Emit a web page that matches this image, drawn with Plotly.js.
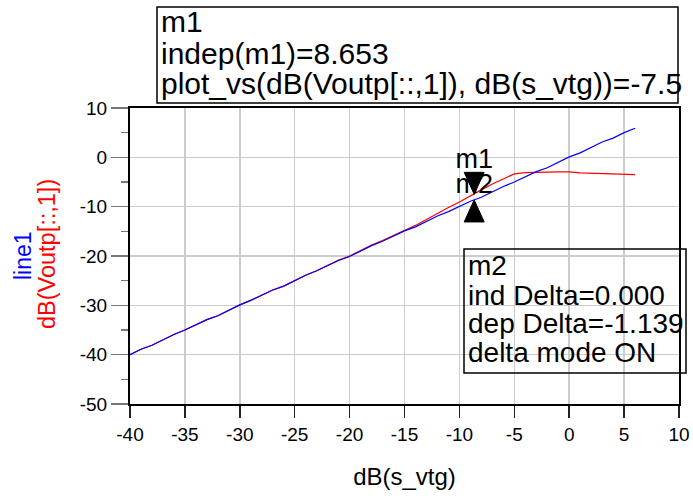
<!DOCTYPE html>
<html>
<head>
<meta charset="utf-8">
<script src="https://cdn.plot.ly/plotly-3.0.1.min.js"></script>
<style>html,body{margin:0;padding:0;background:#fff;}#chart{width:693px;height:496px;}</style>
</head>
<body>
<div id="chart"></div>
<script>
// ---- data ----
const xVals = [-40,-39,-38,-37,-36,-35,-34,-33,-32,-31,-30,-29,-28,-27,-26,-25,-24,-23,-22,-21,-20,-19,-18,-17,-16,-15,-14,-13,-12,-11,-10,-9,-8,-7,-6,-5,-4,-3,-2,-1,0,1,2,3,4,5,6];
const line1 = [-40.0,-38.9,-38.1,-37.0,-35.9,-35.0,-34.0,-32.9,-32.1,-31.0,-29.9,-29.0,-28.0,-26.9,-26.1,-25.0,-23.9,-23.0,-22.0,-20.9,-20.1,-19.0,-17.9,-17.0,-16.0,-14.9,-14.1,-13.0,-11.9,-11.0,-10.0,-8.9,-8.1,-7.0,-5.9,-5.0,-4.0,-2.9,-2.1,-1.0,0.1,0.9,2.0,3.1,3.9,5.0,5.9];
const voutp = [-40.0,-38.9,-38.1,-37.0,-35.9,-35.0,-34.0,-32.9,-32.1,-31.0,-29.9,-29.0,-28.0,-26.9,-26.1,-25.0,-23.9,-23.0,-21.9,-20.8,-20.0,-18.85,-17.8,-16.85,-15.85,-14.7,-13.8,-12.6,-11.3,-10.15,-9.05,-7.9,-6.6,-5.4,-4.3,-3.35,-3.1,-3.0,-3.0,-2.95,-2.95,-3.15,-3.2,-3.2,-3.3,-3.35,-3.5];
const markerX = -8.653;
const m1Y = -7.5;
const depDelta = -1.139;
const indDelta = 0.000;
const m2Y = m1Y + depDelta;
const xTicks = [-40,-35,-30,-25,-20,-15,-10,-5,0,5,10];
const yTicks = [10,0,-10,-20,-30,-40,-50];
const m1Lines = ['m1', 'indep(m1)=8.653', 'plot_vs(dB(Voutp[::,1]), dB(s_vtg))=-7.5'];
const m2Lines = ['m2', 'ind Delta=0.000', 'dep Delta=-1.139', 'delta mode ON'];

const FONT = 'Liberation Sans, Arial, sans-serif';

const traces = [
  {x: xVals, y: voutp, mode: 'lines', line: {color: '#ff0000', width: 1.2}, hoverinfo: 'skip'},
  {x: xVals, y: line1, mode: 'lines', line: {color: '#0000ff', width: 1.2}, hoverinfo: 'skip'},
  {x: [markerX], y: [m1Y], mode: 'markers+text', text: ['m1'], textposition: 'top center',
   marker: {size: 29, opacity: 0}, textfont: {family: FONT, size: 27, color: '#000'}, hoverinfo: 'skip'},
  {x: [markerX], y: [m2Y], mode: 'text', text: ['m2'], textposition: 'top center',
   textfont: {family: FONT, size: 27, color: '#000'}, hoverinfo: 'skip'}
];

// paper coordinates helpers (plot area: x 130..679, y 108..404)
const px = v => (v - 130) / 549;
const py = v => (404 - v) / 296;

const ann = [];
const m1Centers = [21, 53, 84];
m1Lines.forEach((t, i) => ann.push({xref: 'paper', yref: 'paper', x: px(159), y: py(m1Centers[i]), xanchor: 'left', yanchor: 'middle',
  text: t, showarrow: false, font: {family: FONT, size: 30, color: '#000'}}));
const m2Centers = [265, 295, 323, 352];
m2Lines.forEach((t, i) => ann.push({xref: 'paper', yref: 'paper', x: px(466), y: py(m2Centers[i]), xanchor: 'left', yanchor: 'middle',
  text: t, showarrow: false, font: {family: FONT, size: 28, color: '#000'}}));
ann.push({xref: 'paper', yref: 'paper', x: px(23), y: py(256), xanchor: 'center', yanchor: 'middle', textangle: -90, text: 'line1', showarrow: false,
  font: {family: FONT, size: 23, color: '#0000ff'}});
ann.push({xref: 'paper', yref: 'paper', x: px(47), y: py(254), xanchor: 'center', yanchor: 'middle', textangle: -90, text: 'dB(Voutp[::,1])', showarrow: false,
  font: {family: FONT, size: 23.5, color: '#ff0000'}});

const shapes = [
  {type: 'rect', xref: 'paper', yref: 'paper', x0: px(157), x1: px(678), y0: py(103), y1: py(7), line: {color: '#000', width: 1.5}, layer: 'above'},
  {type: 'rect', xref: 'paper', yref: 'paper', x0: px(464), x1: px(686), y0: py(373), y1: py(249), line: {color: '#000', width: 1.5}, layer: 'above'},
  {type: 'path', xref: 'x', yref: 'y', xsizemode: 'pixel', ysizemode: 'pixel', xanchor: markerX, yanchor: m1Y,
   path: 'M0,0 L-10,22 L10,22 Z', fillcolor: '#000', line: {color: '#000', width: 1}, layer: 'above'},
  {type: 'path', xref: 'x', yref: 'y', xsizemode: 'pixel', ysizemode: 'pixel', xanchor: markerX, yanchor: m2Y,
   path: 'M0,0 L-10,-22 L10,-22 Z', fillcolor: '#000', line: {color: '#000', width: 1}, layer: 'above'}
];

const layout = {
  width: 693, height: 496,
  margin: {l: 130, r: 14, t: 108, b: 92, pad: 0},
  paper_bgcolor: '#fff', plot_bgcolor: '#fff',
  showlegend: false,
  font: {family: FONT, color: '#000'},
  xaxis: {
    range: [-40, 10], tickvals: xTicks, ticktext: xTicks.map(String),
    showgrid: true, gridcolor: '#cccccc', gridwidth: 1.5, zeroline: false,
    showline: true, linecolor: '#000', linewidth: 2, mirror: true,
    ticks: 'outside', ticklen: 12, tickcolor: '#222', tickwidth: 1.5,
    tickfont: {family: FONT, size: 19, color: '#000'}, ticklabelstandoff: 0,
    title: {text: 'dB(s_vtg)', font: {family: FONT, size: 24, color: '#000'}, standoff: 24},
    automargin: false, fixedrange: true
  },
  yaxis: {
    range: [-50, 10], tickvals: yTicks, ticktext: yTicks.map(String),
    showgrid: true, gridcolor: '#cccccc', gridwidth: 1.5, zeroline: false,
    showline: true, linecolor: '#000', linewidth: 2, mirror: true,
    ticks: 'outside', ticklen: 17, tickcolor: '#777', tickwidth: 1.5,
    minor: {dtick: 5, tick0: 0, ticks: 'outside', ticklen: 7, tickcolor: '#777', tickwidth: 1.5, showgrid: false},
    tickfont: {family: FONT, size: 19, color: '#000'}, ticklabelstandoff: 0,
    automargin: false, fixedrange: true
  },
  annotations: ann,
  shapes: shapes
};

Plotly.newPlot('chart', traces, layout, {displayModeBar: false, staticPlot: true});
</script>
</body>
</html>
